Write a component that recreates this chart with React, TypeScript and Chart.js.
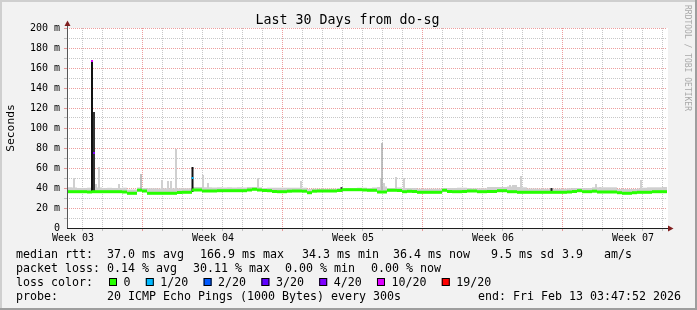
import React, { useEffect, useRef } from 'react';
import { Chart, registerables } from 'chart.js';

Chart.register(...registerables);

// ---------- text ----------
const TITLE = 'Last 30 Days from do-sg';
const Y_TITLE = 'Seconds';
const WATERMARK = 'RRDTOOL / TOBI OETIKER';
const PROBE_TEXT = '20 ICMP Echo Pings (1000 Bytes) every 300s';
const END_TEXT = 'end: Fri Feb 13 03:47:52 2026';

// ---------- axes ----------
const SPAN_HOURS = 720; // 30 days
const SAMPLE_HOURS = 6;
const DAY_GRID_START = 18.8; // first day gridline (hours from start)
const WEEK_GRID_INDEX = 3; // which day gridline (mod 7) is a week line
const weekLabels = ['Week 03', 'Week 04', 'Week 05', 'Week 06', 'Week 07'];
const weekLabelHours = [7.2, 175.2, 343.2, 511.2, 679.2];
const yTickValues = [0, 10, 20, 30, 40, 50, 60, 70, 80, 90, 100, 110, 120, 130, 140, 150, 160, 170, 180, 190, 200];
const yTickLabels = ['0', '', '20 m', '', '40 m', '', '60 m', '', '80 m', '', '100 m', '', '120 m', '', '140 m', '', '160 m', '', '180 m', '', '200 m'];

// ---------- series (ms) ----------
const medianRtt = [
  36.3, 36.3, 36.3, 36.3, 36.0, 36.3, 36.3, 36.3, 36.3, 36.3,
  36.3, 36.0, 34.7, 34.7, 37.8, 37.0, 34.7, 34.7, 34.7, 34.7,
  34.7, 34.7, 35.5, 35.7, 35.7, 38.0, 38.0, 37.0, 37.0, 37.0,
  37.3, 37.3, 37.3, 37.3, 37.3, 37.3, 38.0, 38.7, 38.0, 37.5,
  37.3, 36.5, 36.3, 36.3, 36.8, 37.0, 37.0, 36.8, 35.3, 36.8,
  37.0, 37.0, 37.0, 37.0, 37.5, 38.3, 38.3, 38.3, 38.3, 38.0,
  37.7, 37.7, 36.0, 36.0, 37.7, 37.7, 37.5, 36.3, 36.7, 36.5,
  35.7, 35.7, 35.7, 35.7, 35.7, 37.7, 36.5, 36.3, 36.3, 36.5,
  37.0, 37.0, 36.3, 36.3, 36.5, 36.5, 37.3, 37.3, 36.3, 36.3,
  35.7, 35.7, 35.7, 35.7, 35.7, 35.7, 35.7, 35.7, 35.7, 35.7,
  36.0, 36.5, 37.3, 36.3, 36.3, 36.8, 36.0, 36.0, 36.0, 36.0,
  35.3, 34.7, 34.7, 35.3, 35.7, 35.7, 35.7, 36.3, 36.3, 36.3,
];
const smokeTop = [
  40.7, 40.5, 40.0, 40.0, 40.3, 40.0, 40.5, 40.0, 40.2, 40.0,
  40.0, 40.3, 38.5, 38.5, 40.5, 40.0, 39.7, 39.7, 39.5, 39.7,
  39.7, 39.7, 39.7, 39.7, 39.7, 41.0, 41.0, 40.7, 40.7, 40.5,
  40.7, 40.5, 40.7, 40.5, 40.7, 40.5, 41.0, 41.0, 40.7, 40.0,
  40.3, 40.3, 40.3, 40.3, 40.3, 40.3, 40.3, 40.3, 39.0, 39.3,
  39.3, 39.3, 39.3, 39.3, 40.0, 40.0, 40.0, 40.0, 40.3, 40.3,
  40.0, 40.5, 41.0, 41.5, 40.0, 40.0, 40.5, 40.0, 40.0, 40.0,
  39.3, 39.3, 39.3, 39.3, 39.3, 40.0, 40.0, 40.0, 40.3, 40.3,
  40.0, 39.7, 39.7, 39.7, 41.0, 41.0, 41.0, 41.0, 41.5, 43.0,
  41.0, 40.7, 39.5, 39.5, 39.3, 39.3, 39.3, 39.3, 39.3, 39.3,
  39.7, 40.0, 40.0, 40.0, 40.0, 40.7, 40.7, 40.7, 40.7, 40.7,
  39.0, 39.0, 39.0, 39.0, 39.5, 40.3, 40.7, 40.7, 40.7, 41.0,
];
const spikeHours = [8.4, 34.8, 38.4, 62.4, 114.0, 121.2, 124.8, 130.8, 163.2, 169.2, 229.2, 280.8, 376.8, 380.4, 394.8, 404.4, 531.6, 544.8, 634.8, 639.6, 688.8];
const spikeTops = [50, 44, 61, 44, 48, 47, 47, 79, 53, 45, 50, 47, 50, 45, 51, 50, 43, 52, 44, 41, 48];
const SPIKE_BASE = 38;
const midSpikeHours = [88.8, 378.0];
const midSpikeTops = [54, 85];
const darkBarHours = [30.0, 32.4, 150.6, 329.4, 581.4];
const darkBarLows = [36, 36, 36, 36, 35];
const darkBarTops = [168, 116, 61, 41, 40];
const darkBarColors = ['#111111', '#333333', '#111111', '#444444', '#222222'];
const lossMarkHours = [30.0, 32.4, 150.6];
const lossMarkRtt = [167, 75, 50];
const lossMarkClass = [5, 4, 1];

// ---------- legend ----------
const lossLabels = ['0', '1/20', '2/20', '3/20', '4/20', '10/20', '19/20'];
const lossColors = ['#26ff00', '#00b8ff', '#0059ff', '#5e00ff', '#7e00ff', '#dd00ff', '#ff0000'];
const rttStatValues = [37.0, 166.9, 34.3, 36.4];
const rttStatNames = ['avg', 'max', 'min', 'now'];
const rttSd = 9.5;
const amPerSec = 3.9;
const lossStatValues = [0.14, 30.11, 0.0, 0.0];

// ---------- style ----------
const FONT = "'DejaVu Sans Mono', monospace";
const GRID = 'rgba(143,143,143,0.5)';
const MGRID = 'rgba(222,79,79,0.55)';
const ARROW = '#801f1f';
const LINE_HALF = 1.5;

const xTickValues = (() => {
  const t: number[] = [];
  for (let h = DAY_GRID_START; h < SPAN_HOURS; h += 24) t.push(h);
  weekLabelHours.forEach((h) => t.push(h));
  return t.sort((a, b) => a - b);
})();

const isLabelTick = (v: number) => weekLabelHours.some((h) => Math.abs(h - v) < 1e-6);

const xGridColor = (ctx: any) => {
  const v = ctx.tick ? ctx.tick.value : undefined;
  if (v === undefined || isLabelTick(v)) return 'rgba(0,0,0,0)';
  const k = Math.round((v - DAY_GRID_START) / 24);
  return k % 7 === WEEK_GRID_INDEX ? MGRID : GRID;
};
const yGridColor = (ctx: any) => {
  const v = ctx.tick ? ctx.tick.value : undefined;
  if (v === undefined || v === 0) return 'rgba(0,0,0,0)';
  return v % 20 === 0 ? MGRID : GRID;
};

const rrdPlugin = {
  id: 'rrdDecor',
  beforeDraw(chart: any) {
    const { ctx, chartArea: a, width, height } = chart;
    ctx.save();
    ctx.fillStyle = '#f2f2f2';
    ctx.fillRect(0, 0, width, height);
    ctx.fillStyle = '#cfcfcf';
    ctx.fillRect(0, 0, width, 2);
    ctx.fillRect(0, 0, 2, height);
    ctx.fillStyle = '#9e9e9e';
    ctx.fillRect(0, height - 2, width, 2);
    ctx.fillRect(width - 2, 0, 2, height);
    ctx.fillStyle = '#ffffff';
    ctx.fillRect(a.left, a.top, a.right - a.left + 1, a.bottom - a.top);
    ctx.restore();
  },
  afterDatasetsDraw(chart: any) {
    const { ctx, chartArea: a } = chart;
    ctx.save();
    // axes
    ctx.fillStyle = '#555555';
    ctx.fillRect(a.left, a.top - 3, 1, a.bottom - a.top + 4);
    ctx.fillStyle = '#1f1f1f';
    ctx.fillRect(a.left, a.bottom, a.right - a.left + 2, 1);
    // arrows
    ctx.fillStyle = ARROW;
    ctx.beginPath();
    ctx.moveTo(a.left - 2.5, a.top - 2);
    ctx.lineTo(a.left + 0.5, a.top - 7.5);
    ctx.lineTo(a.left + 3.5, a.top - 2);
    ctx.closePath();
    ctx.fill();
    ctx.beginPath();
    ctx.moveTo(a.right + 1, a.bottom - 2.5);
    ctx.lineTo(a.right + 6.5, a.bottom + 0.5);
    ctx.lineTo(a.right + 1, a.bottom + 3.5);
    ctx.closePath();
    ctx.fill();
    ctx.restore();
  },
  afterDraw(chart: any) {
    const { ctx, width } = chart;
    ctx.save();
    ctx.fillStyle = '#000';
    ctx.textBaseline = 'alphabetic';
    // title
    ctx.font = `13.3px ${FONT}`;
    ctx.textAlign = 'center';
    ctx.fillText(TITLE, width / 2 - 1, 24);

    // legend rows
    ctx.font = `11.63px ${FONT}`;
    ctx.textAlign = 'left';
    const row1 = [
      `median rtt:  ${rttStatValues[0].toFixed(1)} ms ${rttStatNames[0]}`,
      `${rttStatValues[1].toFixed(1)} ms ${rttStatNames[1]}`,
      `${rttStatValues[2].toFixed(1)} ms ${rttStatNames[2]}`,
      `${rttStatValues[3].toFixed(1)} ms ${rttStatNames[3]}`,
      `${rttSd.toFixed(1)} ms sd`,
      `${amPerSec.toFixed(1)}   am/s`,
    ];
    const row1X = [16, 200, 302, 393, 491, 562];
    row1.forEach((s, i) => ctx.fillText(s, row1X[i], 258));

    const row2 = [
      `packet loss: ${lossStatValues[0].toFixed(2)} % ${rttStatNames[0]}`,
      `${lossStatValues[1].toFixed(2)} % ${rttStatNames[1]}`,
      `${lossStatValues[2].toFixed(2)} % ${rttStatNames[2]}`,
      `${lossStatValues[3].toFixed(2)} % ${rttStatNames[3]}`,
    ];
    const row2X = [16, 193, 285, 371];
    row2.forEach((s, i) => ctx.fillText(s, row2X[i], 272));

    ctx.fillText('loss color:', 16, 286);
    let bx = 109;
    lossLabels.forEach((lab, i) => {
      ctx.fillStyle = lossColors[i];
      ctx.fillRect(bx, 278, 8, 8);
      ctx.strokeStyle = '#000';
      ctx.lineWidth = 1;
      ctx.strokeRect(bx + 0.5, 278.5, 7, 7);
      ctx.fillStyle = '#000';
      ctx.fillText(lab, bx + 14.5, 286);
      bx += 14.5 + ctx.measureText(lab).width + 15.3;
    });

    ctx.fillText('probe:', 16, 300);
    ctx.fillText(PROBE_TEXT, 107, 300);
    ctx.textAlign = 'right';
    ctx.fillText(END_TEXT, 681, 300);

    // watermark
    ctx.translate(685, 5);
    ctx.rotate(Math.PI / 2);
    ctx.textAlign = 'left';
    ctx.font = `8px ${FONT}`;
    ctx.fillStyle = '#a9a9a9';
    ctx.fillText(WATERMARK, 0, 0);
    ctx.restore();
  },
};

export default function App() {
  const ref = useRef<HTMLCanvasElement>(null);

  useEffect(() => {
    const canvas = ref.current;
    if (!canvas) return;
    Chart.defaults.font.family = FONT;
    Chart.defaults.color = '#000';

    const sampleHours = medianRtt.map((_, i) => SAMPLE_HOURS * i + SAMPLE_HOURS / 2);

    const datasets: any[] = [
      {
        label: 'loss marks',
        data: lossMarkHours.map((h, i) => ({ x: h, y: [lossMarkRtt[i] - 1, lossMarkRtt[i] + 1] })),
        backgroundColor: lossMarkClass.map((k) => lossColors[k]),
        barThickness: 2,
        order: 0,
      },
      {
        label: 'median rtt',
        data: sampleHours.map((h, i) => ({ x: h, y: [medianRtt[i] - LINE_HALF, medianRtt[i] + LINE_HALF] })),
        backgroundColor: lossColors[0],
        barThickness: 5,
        order: 1,
      },
      {
        label: 'dark smoke',
        data: darkBarHours.map((h, i) => ({ x: h, y: [darkBarLows[i], darkBarTops[i]] })),
        backgroundColor: darkBarColors,
        barThickness: 2,
        order: 2,
      },
      {
        label: 'mid spikes',
        data: midSpikeHours.map((h, i) => ({ x: h, y: [SPIKE_BASE, midSpikeTops[i]] })),
        backgroundColor: '#ababab',
        barThickness: 1.5,
        order: 3,
      },
      {
        label: 'spikes',
        data: spikeHours.map((h, i) => ({ x: h, y: [SPIKE_BASE, spikeTops[i]] })),
        backgroundColor: '#d0d0d0',
        barThickness: 2,
        order: 4,
      },
      {
        label: 'smoke',
        data: sampleHours.map((h, i) => ({ x: h, y: [medianRtt[i], smokeTop[i]] })),
        backgroundColor: '#cfcfcf',
        barThickness: 5,
        order: 5,
      },
    ];
    datasets.forEach((d) => { d.stack = 'all'; d.borderWidth = 0; d.inflateAmount = 0; });

    const chart = new Chart(canvas, {
      type: 'bar',
      data: { datasets },
      options: {
        animation: false,
        responsive: false,
        events: [],
        layout: { padding: { left: 0, right: 30, top: 28, bottom: 52 } },
        plugins: {
          legend: { display: false },
          tooltip: { enabled: false },
          title: { display: false },
        },
        scales: {
          x: {
            type: 'linear',
            min: 0,
            max: SPAN_HOURS,
            offset: false,
            afterBuildTicks: (axis: any) => {
              axis.ticks = xTickValues.map((v) => ({ value: v }));
            },
            afterFit: (axis: any) => {
              axis.height = 30;
            },
            grid: {
              offset: false,
              color: xGridColor,
              tickColor: xGridColor,
              lineWidth: 1,
              drawTicks: true,
              tickLength: 3,
            },
            border: { display: false, dash: [1, 1] },
            ticks: {
              autoSkip: false,
              maxRotation: 0,
              minRotation: 0,
              padding: 1,
              color: '#000',
              font: { size: 10, family: FONT },
              callback: (v: any) => {
                const i = weekLabelHours.findIndex((h) => Math.abs(h - Number(v)) < 1e-6);
                return i >= 0 ? weekLabels[i] : '';
              },
            },
          },
          y: {
            type: 'linear',
            min: 0,
            max: 200,
            stacked: false,
            afterBuildTicks: (axis: any) => {
              axis.ticks = yTickValues.map((v) => ({ value: v }));
            },
            afterFit: (axis: any) => {
              axis.width = 67;
            },
            grid: {
              color: yGridColor,
              tickColor: yGridColor,
              lineWidth: 1,
              drawTicks: true,
              tickLength: 3,
            },
            border: { display: false, dash: [1, 1] },
            title: {
              display: true,
              text: Y_TITLE,
              color: '#000',
              font: { size: 11.3, family: FONT },
              padding: { top: 4.5, bottom: 0 },
            },
            ticks: {
              autoSkip: false,
              padding: 4,
              color: '#000',
              font: { size: 10, family: FONT },
              callback: (v: any) => {
                const i = yTickValues.indexOf(Number(v));
                return i >= 0 ? yTickLabels[i] : '';
              },
            },
          },
        },
      } as any,
      plugins: [rrdPlugin],
    });
    return () => chart.destroy();
  }, []);

  return (
    <div style={{ position: 'fixed', left: 0, top: 0, width: 697, height: 310 }}>
      <canvas ref={ref} width={697} height={310} style={{ display: 'block', width: 697, height: 310 }} />
    </div>
  );
}
